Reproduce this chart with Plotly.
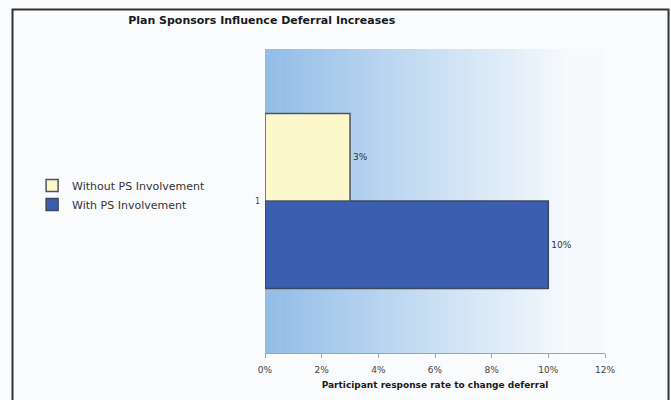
import plotly.graph_objects as go

# Data
categories = ["1"]
series_names = ["With PS Involvement", "Without PS Involvement"]
with_ps = [10]
without_ps = [3]
x_ticks = [0, 2, 4, 6, 8, 10, 12]
x_tick_labels = [f"{v}%" for v in x_ticks]

FONT = "DejaVu Sans, Verdana, sans-serif"

fig = go.Figure()
fig.add_trace(go.Bar(
    y=categories, x=with_ps, name=series_names[0], orientation="h",
    marker=dict(color="#3b5eb0", line=dict(color="#3d4a5c", width=1.5)),
    text=[f"{v}%" for v in with_ps], texttemplate="%{text}", textposition="outside",
    textfont=dict(size=9, color="#333333", family=FONT),
    cliponaxis=False,
))
fig.add_trace(go.Bar(
    y=categories, x=without_ps, name=series_names[1], orientation="h",
    marker=dict(color="#fdf7cc", line=dict(color="#4d5560", width=1.5)),
    text=[f"{v}%" for v in without_ps], texttemplate="%{text}", textposition="outside",
    textfont=dict(size=9, color="#333333", family=FONT),
    cliponaxis=False,
))

# Horizontal blue-to-white gradient behind the plot area
shapes = []
n_strips = 90
c0 = (146, 189, 231)
c1 = (247, 250, 253)
fade_end = 0.9
for i in range(n_strips):
    t0 = i / n_strips
    t1 = (i + 1) / n_strips
    f = min(1.0, ((t0 + t1) / 2) / fade_end)
    col = tuple(round(a + (b - a) * f) for a, b in zip(c0, c1))
    shapes.append(dict(
        type="rect", xref="x domain", yref="y domain",
        x0=t0, x1=t1 + 0.002, y0=0, y1=1,
        fillcolor="rgb(%d,%d,%d)" % col, line=dict(width=0), layer="below",
    ))

# Outer frame around the whole chart
shapes.append(dict(
    type="rect", xref="paper", yref="paper",
    x0=-0.7426, x1=1.1868, y0=-0.2, y1=1.1299,
    line=dict(color="#333333", width=2), fillcolor="rgba(0,0,0,0)",
))

fig.update_layout(
    width=671, height=400,
    margin=dict(l=265, r=66, t=49, b=47),
    paper_bgcolor="#fafbfd",
    plot_bgcolor="rgba(0,0,0,0)",
    barmode="group",
    bargap=0.424,
    bargroupgap=0,
    shapes=shapes,
    font=dict(family=FONT, color="#333333"),
    title=dict(
        text="<b>Plan Sponsors Influence Deferral Increases</b>",
        x=0.39, xanchor="center", y=0.95, yanchor="middle",
        font=dict(size=11, color="#1a1a1a", family=FONT),
    ),
    legend=dict(
        x=-0.685, xanchor="left", y=0.52, yanchor="middle",
        traceorder="reversed",
        font=dict(size=11, color="#333333", family=FONT),
        bgcolor="rgba(0,0,0,0)",
        itemclick=False,
    ),
    xaxis=dict(
        range=[0, 12], tickmode="array", tickvals=x_ticks, ticktext=x_tick_labels,
        showgrid=False, zeroline=False,
        showline=True, linecolor="#8fa6bf", linewidth=1,
        ticks="outside", ticklen=4, tickcolor="#8fa6bf",
        ticklabelstandoff=4,
        tickfont=dict(size=9, color="#444444", family=FONT),
        title=dict(text="<b>Participant response rate to change deferral</b>",
                   font=dict(size=9, color="#1a1a1a", family=FONT), standoff=7),
    ),
    yaxis=dict(
        type="category", showgrid=False, zeroline=False, showline=False,
        ticks="", ticklabelstandoff=4,
        tickfont=dict(size=8, color="#444444", family=FONT),
    ),
)

fig.write_html("out.html")
